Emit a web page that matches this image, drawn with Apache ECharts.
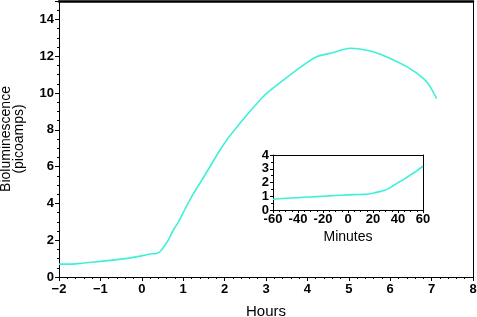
<!DOCTYPE html>
<html>
<head>
<meta charset="utf-8">
<script src="https://cdn.jsdelivr.net/npm/echarts@6/dist/echarts.min.js"></script>
<style>
html, body { margin: 0; padding: 0; background: #fff; }
#chart { width: 477px; height: 317px; }
</style>
</head>
<body>
<div id="chart"></div>
<script>
// main curve: hours vs bioluminescence (picoamps)
let hours = [-2, -1.7, -1.4, -1, -0.5, 0, 0.2, 0.35, 0.45, 0.55, 0.65, 0.75, 0.9, 1, 1.24, 1.5, 1.89, 2.1, 2.37, 2.6, 2.81, 3, 3.42, 3.8, 4.22, 4.63, 5.03, 5.3, 5.59, 6, 6.4, 6.8, 6.95, 7.12];
let signal = [0.7, 0.7, 0.76, 0.85, 0.97, 1.15, 1.25, 1.28, 1.4, 1.7, 2.05, 2.5, 3.05, 3.5, 4.5, 5.45, 6.9, 7.6, 8.35, 8.97, 9.5, 9.95, 10.7, 11.35, 11.97, 12.2, 12.43, 12.38, 12.24, 11.88, 11.43, 10.8, 10.4, 9.7];

// inset: minutes vs signal
let minutes = [-60, -50, -40, -30, -20, -10, 0, 10, 15, 20, 25, 30, 35, 40, 45, 50, 55, 60];
let insetSignal = [0.78, 0.85, 0.9, 0.95, 1.0, 1.05, 1.1, 1.13, 1.15, 1.22, 1.33, 1.45, 1.7, 1.99, 2.25, 2.55, 2.85, 3.2];

let mainPts = hours.map((h, i) => [h, signal[i]]);
let insetPts = minutes.map((m, i) => [m, insetSignal[i]]);

let lineColor = '#3ff0d8';
let font = 'Liberation Sans, Arial, sans-serif';

// plain frame line used for top / right edges
function frameAxis(gridIndex, position, min, max, width) {
    return {
        gridIndex: gridIndex, type: 'value', min: min, max: max, position: position,
        axisLine: { show: true, onZero: false, lineStyle: { color: '#000', width: width } },
        axisTick: { show: false }, axisLabel: { show: false }, splitLine: { show: false }
    };
}

let option = {
    animation: false,
    grid: [
        { left: 59, right: 4, top: 1, bottom: 40, show: false, containLabel: false, outerBoundsMode: 'none' },
        { left: 273, right: 54, top: 155, bottom: 107, show: false, containLabel: false, outerBoundsMode: 'none' }
    ],
    xAxis: [
        {
            gridIndex: 0, type: 'value', min: -2, max: 8, interval: 1,
            name: 'Hours', nameLocation: 'middle', nameGap: 27,
            nameTextStyle: { fontFamily: font, fontSize: 15, color: '#000' },
            axisLine: { onZero: false, lineStyle: { color: '#000', width: 1 } },
            axisTick: { length: 4, lineStyle: { color: '#000' } },
            minorTick: { show: true, splitNumber: 5, length: 2, lineStyle: { color: '#000' } },
            axisLabel: {
                fontFamily: font, fontSize: 13, fontWeight: 'bold', color: '#000', margin: 6,
                formatter: v => (v < 0 ? '\u2212' + Math.abs(v) : String(v))
            },
            splitLine: { show: false }
        },
        frameAxis(0, 'top', -2, 8, 2.5),
        {
            gridIndex: 1, type: 'value', min: -60, max: 60, interval: 20,
            name: 'Minutes', nameLocation: 'middle', nameGap: 20,
            nameTextStyle: { fontFamily: font, fontSize: 14, color: '#000' },
            axisLine: { onZero: false, lineStyle: { color: '#000', width: 1 } },
            axisTick: { length: 3, lineStyle: { color: '#000' } },
            minorTick: { show: true, splitNumber: 4, length: 2, lineStyle: { color: '#000' } },
            axisLabel: { fontFamily: font, fontSize: 13, fontWeight: 'bold', color: '#000', margin: 3 },
            splitLine: { show: false }
        },
        frameAxis(1, 'top', -60, 60, 1)
    ],
    yAxis: [
        {
            gridIndex: 0, type: 'value', min: 0, max: 15, interval: 2,
            name: 'Bioluminescence\n(picoamps)', nameLocation: 'middle', nameGap: 33,
            nameTextStyle: { fontFamily: font, fontSize: 14, color: '#000', lineHeight: 13 },
            axisLine: { onZero: false, lineStyle: { color: '#000', width: 1 } },
            axisTick: { length: 4, lineStyle: { color: '#000' } },
            minorTick: { show: true, splitNumber: 4, length: 2, lineStyle: { color: '#000' } },
            axisLabel: {
                fontFamily: font, fontSize: 13, fontWeight: 'bold', color: '#000', margin: 5,
                showMaxLabel: false
            },
            splitLine: { show: false }
        },
        frameAxis(0, 'right', 0, 15, 1),
        {
            gridIndex: 1, type: 'value', min: 0, max: 4, interval: 1,
            axisLine: { onZero: false, lineStyle: { color: '#000', width: 1 } },
            axisTick: { length: 3, lineStyle: { color: '#000' } },
            minorTick: { show: true, splitNumber: 2, length: 2, lineStyle: { color: '#000' } },
            axisLabel: { fontFamily: font, fontSize: 13, fontWeight: 'bold', color: '#000', margin: 4 },
            splitLine: { show: false }
        },
        frameAxis(1, 'right', 0, 4, 1)
    ],
    series: [
        {
            type: 'line', xAxisIndex: 0, yAxisIndex: 0, data: mainPts,
            showSymbol: false, smooth: 0.25,
            lineStyle: { color: lineColor, width: 1.6 }
        },
        {
            type: 'line', xAxisIndex: 2, yAxisIndex: 2, data: insetPts,
            showSymbol: false, smooth: 0.25,
            lineStyle: { color: lineColor, width: 1.6 }
        }
    ]
};

let chart = echarts.init(document.getElementById('chart'));
chart.setOption(option);
</script>
</body>
</html>
